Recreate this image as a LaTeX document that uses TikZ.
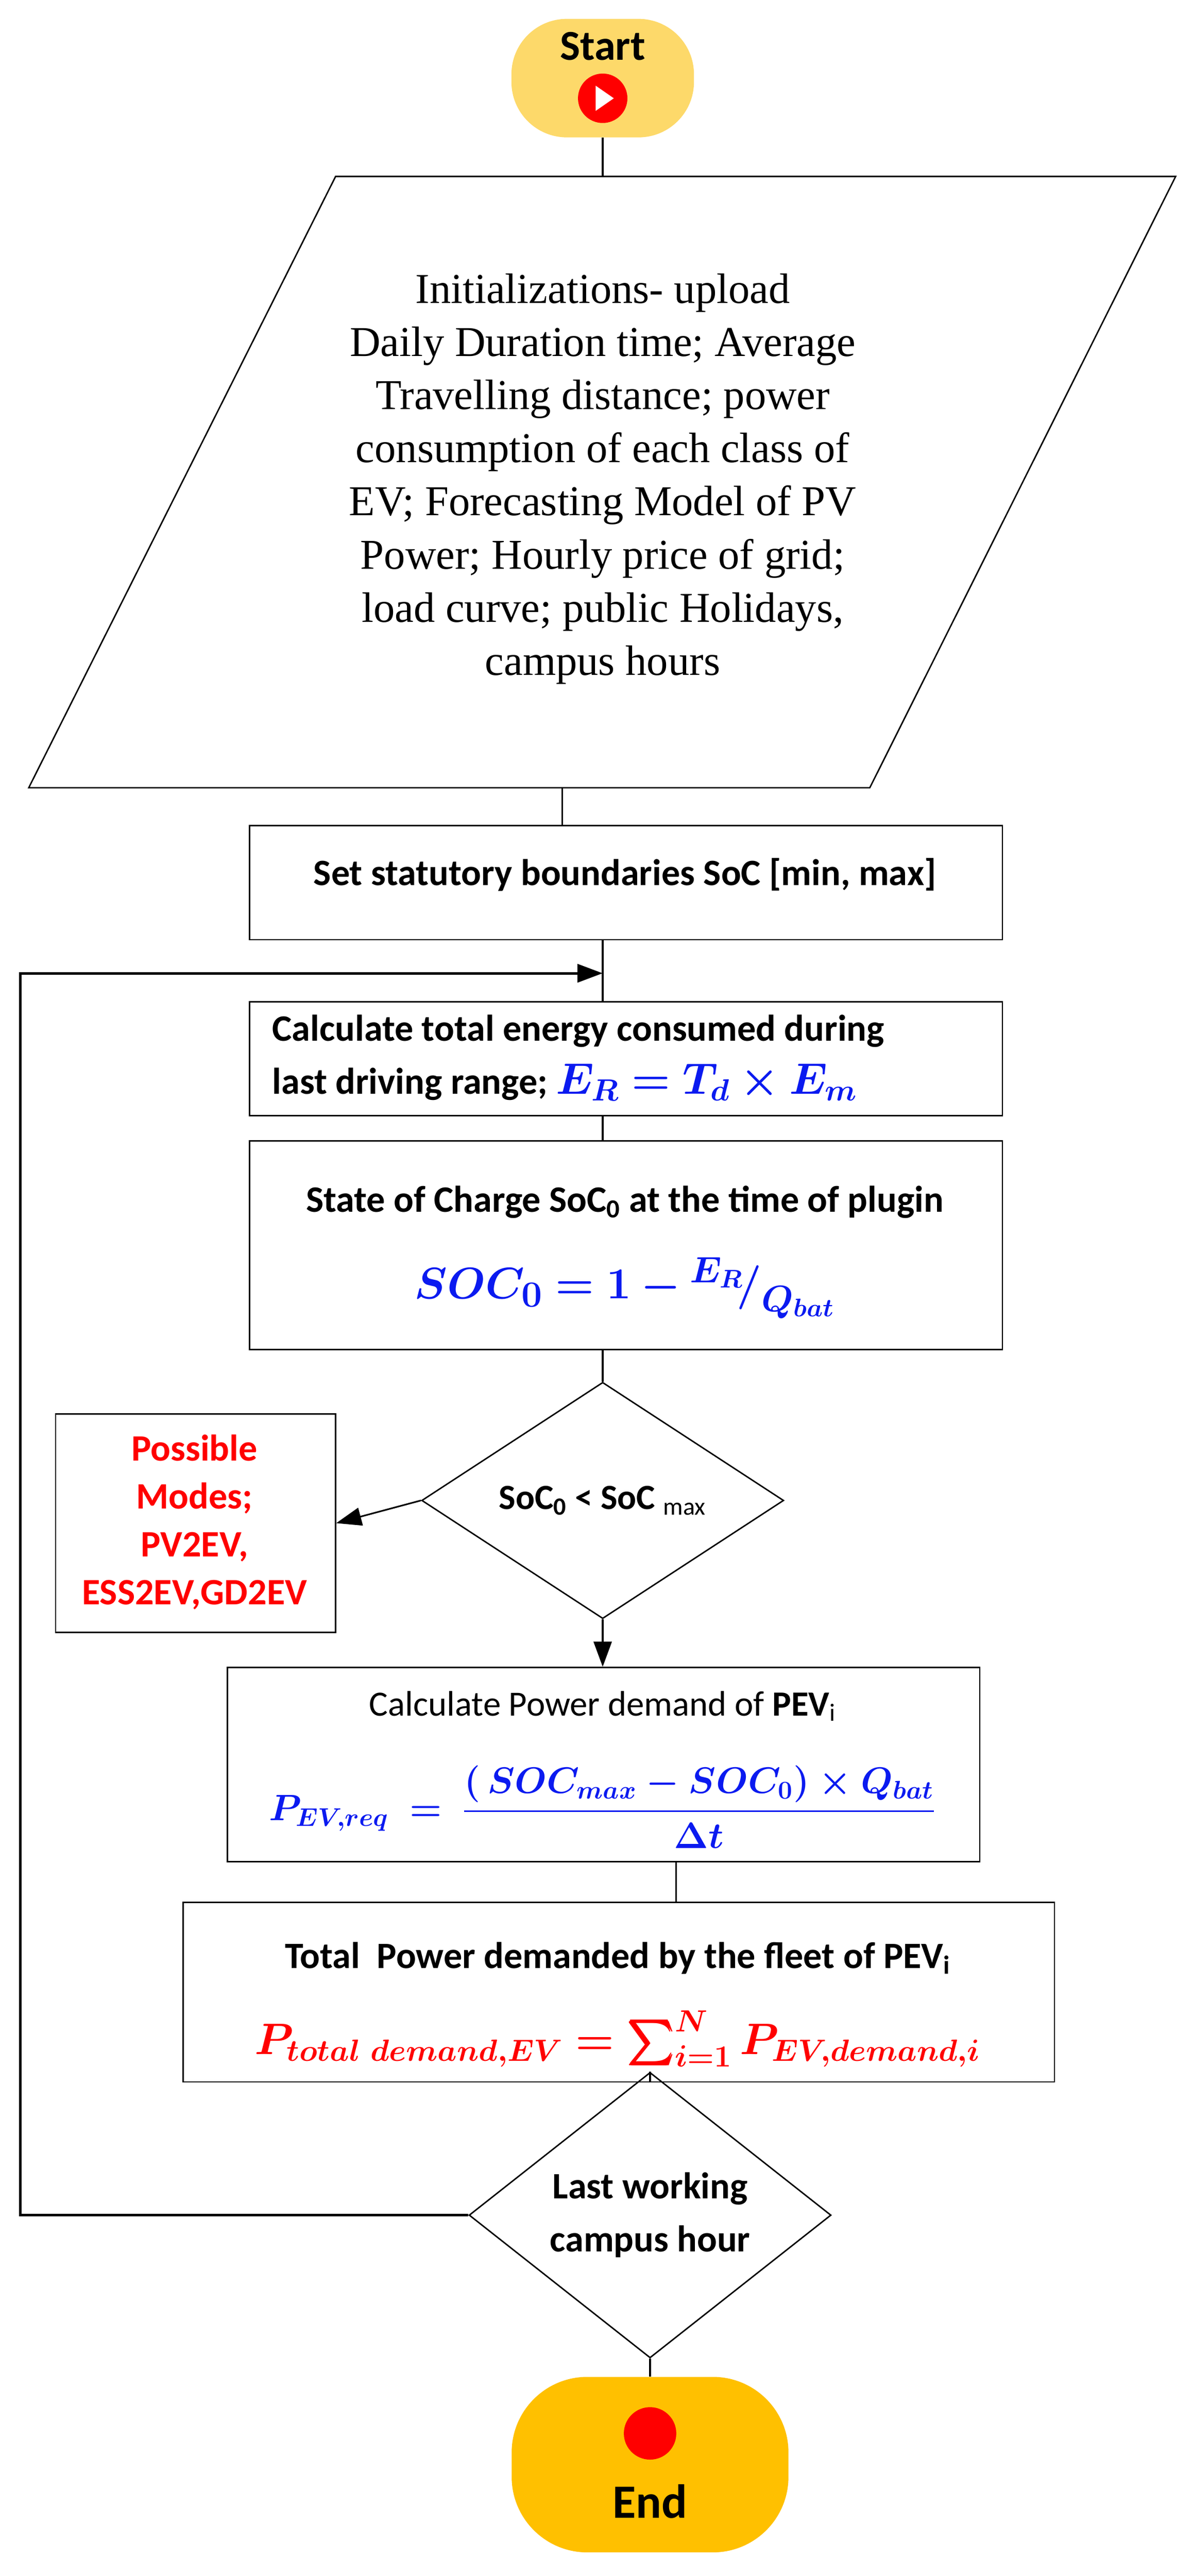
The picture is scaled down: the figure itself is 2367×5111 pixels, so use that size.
\documentclass[tikz,border=0pt]{standalone}
\usepackage{fontspec}
\usepackage{amsmath,bm}
\setmainfont{Carlito}
\newfontfamily\timesf{Liberation Serif}
\usetikzlibrary{shapes.geometric,arrows.meta,calc}
\definecolor{startyel}{HTML}{FDD96A}
\definecolor{endyel}{HTML}{FFC000}
\definecolor{mblue}{HTML}{0A1AF0}
\definecolor{mred}{HTML}{FF0000}
\tikzset{
  box/.style={draw, line width=0.8pt, rectangle, inner sep=0pt},
  dia/.style={draw, line width=0.8pt, diamond, inner sep=0pt},
  ln/.style={line width=0.9pt},
  arr/.style={line width=0.9pt, -{Triangle[length=0.5cm,width=0.36cm]}},
  txt/.style={font=\fontsize{20}{26}\selectfont\bfseries, align=center},
}
\begin{document}
\begin{tikzpicture}[x=0.01cm,y=-0.01cm]
\useasboundingbox (0,0) rectangle (2367,5111);
% start
\node[fill=startyel, rounded corners=1.1cm, minimum width=3.62cm, minimum height=2.35cm] (start) at (1196,155) {};
\node[txt, font=\fontsize{24}{28}\selectfont\bfseries] (starttxt) at (1196,92) {Start};
\node[circle, fill=mred, minimum size=0.98cm, inner sep=0pt] (startdot) at (1196,195) {};
\fill[white] (1182,170) -- (1218,195) -- (1182,220) -- cycle;
% parallelogram
\draw[line width=0.8pt] (666,350) -- (2333,350) -- (1726,1563) -- (57,1563) -- cycle;
\coordinate (ptop) at (1196,350);
\coordinate (pbot) at (1116,1563);
\node[align=center, font=\timesf\fontsize{24}{30}\selectfont] (init) at (1196,950) {Initializations- upload\\Daily Duration time; Average\\Travelling distance; power\\consumption of each class of\\EV; Forecasting Model of PV\\Power; Hourly price of grid;\\load curve; public Holidays,\\campus hours};
% box1
\node[box, minimum width=14.93cm, minimum height=2.26cm, anchor=north west] (b1) at (494,1637) {};
\node[txt, font=\fontsize{21}{26}\selectfont\bfseries] (b1t) at (1240,1735) {Set statutory boundaries SoC [min, max]};
% box2
\node[box, minimum width=14.93cm, minimum height=2.26cm, anchor=north west] (b2) at (494,1986) {};
\node[txt, align=left, anchor=west, font=\fontsize{21}{30}\selectfont\bfseries] (b2t) at (528,2099) {Calculate total energy consumed during\\last driving range; {\color{mblue}\fontsize{26}{30}\selectfont$\bm{E_R = T_d \times E_m}$}};
% box3
\node[box, minimum width=14.93cm, minimum height=4.14cm, anchor=north west] (b3) at (494,2262) {};
\node[txt, font=\fontsize{21}{26}\selectfont\bfseries] (b3t) at (1240,2385) {State of Charge SoC\textsubscript{0} at the time of plugin};
\node[text=mblue, font=\fontsize{28}{32}\selectfont, inner sep=0pt] (b3f) at (1240,2555) {$\bm{SOC_0 = 1 - {}^{E_R}\!/_{Q_{bat}}}$};
% diamond1
\node[dia, minimum width=7.18cm, minimum height=4.64cm, txt] (d1) at (1196,2977) {SoC\textsubscript{0} < SoC \textsubscript{\normalfont max}};
% modes
\node[box, minimum width=5.55cm, minimum height=4.33cm, anchor=north west] (modes) at (109,2804) {};
\node[text=mred, align=center, font=\fontsize{21}{27}\selectfont\bfseries] (modest) at (386,3020) {Possible\\Modes;\\PV2EV,\\ESS2EV,GD2EV};
% box4
\node[box, minimum width=14.92cm, minimum height=3.85cm, anchor=north west] (b4) at (450,3307) {};
\node[font=\fontsize{20}{26}\selectfont] (b4t) at (1196,3385) {Calculate Power demand of \textbf{PEV}\textsubscript{i}};
\node[text=mblue, font=\fontsize{21}{26}\selectfont, inner sep=0pt] (b4f) at (1196,3585) {$\bm{P_{EV,req} \;=\; \dfrac{(\,SOC_{max} - SOC_0)\times Q_{bat}}{\Delta t}}$};
% box5
\node[box, minimum width=17.28cm, minimum height=3.56cm, anchor=north west] (b5) at (362,3773) {};
\node[txt, font=\fontsize{21}{26}\selectfont\bfseries] (b5t) at (1226,3885) {Total\ \ Power demanded by the fleet of PEV\textsubscript{i}};
\node[text=mred, font=\fontsize{26}{30}\selectfont, inner sep=0pt] (b5f) at (1226,4045) {$\bm{P_{total\ demand,EV} = \textstyle\sum_{i=1}^{N} P_{EV,demand,i}}$};
% diamond2
\node[dia, minimum width=7.18cm, minimum height=4.5cm, txt, font=\fontsize{21}{30}\selectfont\bfseries] (d2) at (1290,4395) {Last working\\campus hour};
% end
\node[fill=endyel, rounded corners=1.5cm, minimum width=5.49cm, minimum height=3.48cm] (endn) at (1290,4890) {};
\node[circle, fill=mred, minimum width=1.04cm, minimum height=1.04cm, inner sep=0pt] (enddot) at (1290,4828) {};
\node[txt, font=\fontsize{27}{30}\selectfont\bfseries] (endt) at (1290,4963) {End};
% connectors
\draw[ln] (start.south) -- (ptop);
\draw[ln] (pbot) -- (pbot |- b1.north);
\draw[ln] (b1.south -| 1196,0) -- (b2.north -| 1196,0);
\coordinate (loopin) at (1196,1931);
\draw[ln] (b2.south -| 1196,0) -- (b3.north -| 1196,0);
\draw[ln] (b3.south -| 1196,0) -- (d1.north);
\draw[arr] (d1.west) -- (modes.east);
\draw[arr] (d1.south) -- (b4.north -| d1.south);
\draw[ln] (b4.south -| 1342,0) -- (b5.north -| 1342,0);
\draw[ln] (b5.south -| d2.north) -- (d2.north);
\draw[ln, line width=1.3pt] (d2.south) -- (endn.north);
\coordinate (loopbl) at (40,4395);
\coordinate (looptl) at (40,1931);
\draw[line width=1.4pt, -{Triangle[length=0.5cm,width=0.36cm]}] (d2.west) -- (loopbl) -- (looptl) -- (loopin);
\end{tikzpicture}
\end{document}
